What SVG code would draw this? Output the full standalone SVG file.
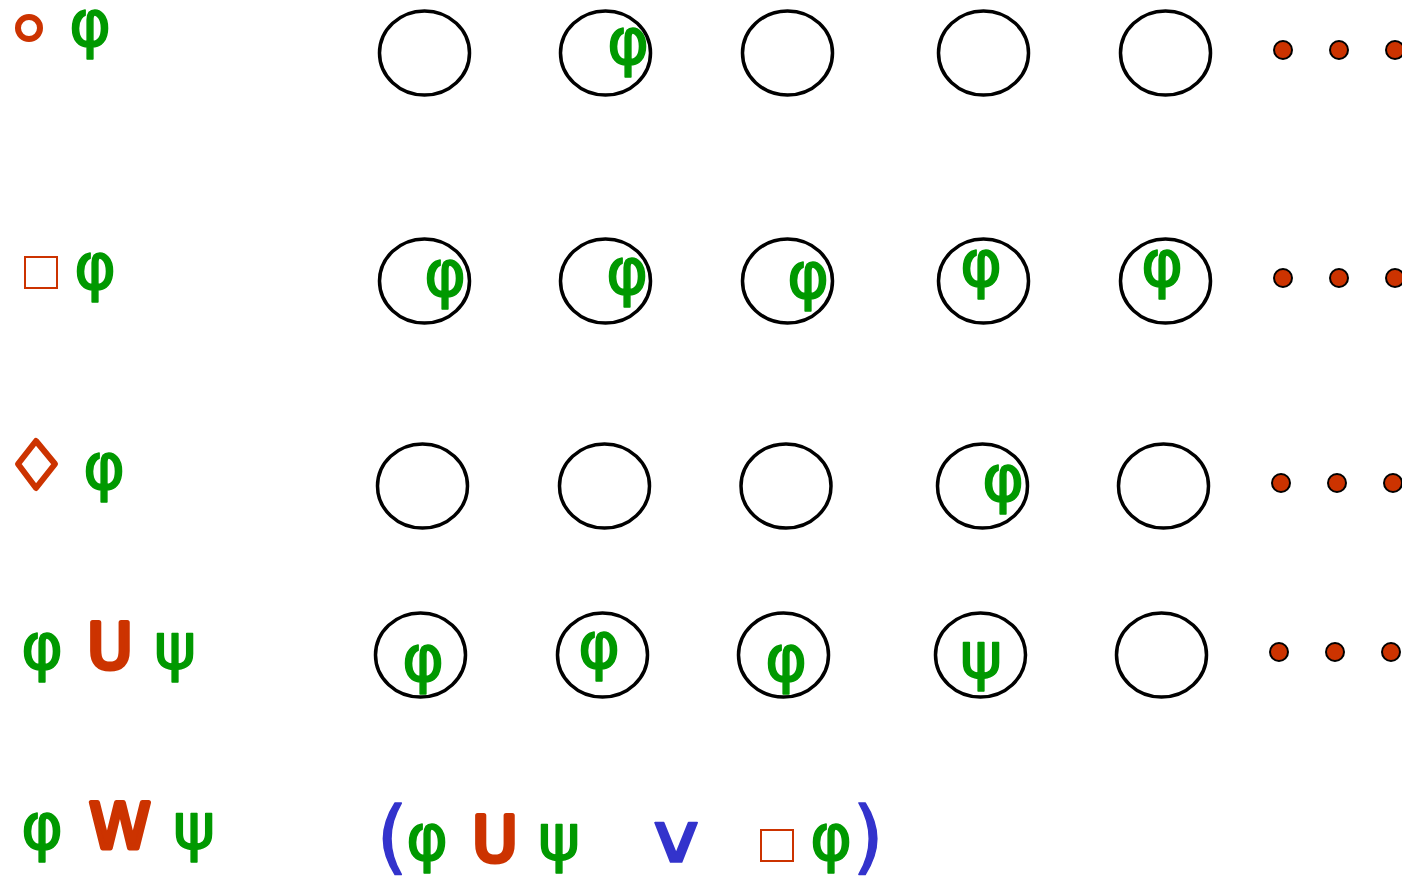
<svg xmlns="http://www.w3.org/2000/svg" width="1402" height="878" viewBox="0 0 1402 878">
  <style>
    .state { fill: #ffffff; stroke: #000000; stroke-width: 3.5; }
    .dot { fill: #cc3300; stroke: #000000; stroke-width: 2; }
    .g { fill: #009900; stroke: #009900; stroke-width: 1.5; stroke-linejoin: round; font-family: "DejaVu Sans", sans-serif; font-size: 64px; text-anchor: middle; }
    .op { fill: #cc3300; stroke: #cc3300; stroke-width: 5; stroke-linejoin: round; stroke-linecap: round; font-family: "DejaVu Sans", sans-serif; font-size: 62px; text-anchor: middle; }
    .b { fill: #3333cc; stroke: #3333cc; stroke-width: 1.5; stroke-linejoin: round; font-family: "DejaVu Sans", sans-serif; text-anchor: middle; }
    .ring { fill: none; stroke: #cc3300; stroke-width: 6; stroke-linejoin: round; }
    .box { fill: none; stroke: #cc3300; stroke-width: 2; }
  </style>

  <!-- operator labels, left column -->
  <g id="label-next">
    <circle class="ring" cx="29" cy="28" r="11"/>
    <text class="g" x="90" y="46">φ</text>
  </g>
  <g id="label-always">
    <rect class="box" x="25" y="257" width="32" height="31"/>
    <text class="g" x="95" y="289">φ</text>
  </g>
  <g id="label-eventually">
    <polygon class="ring" points="36,441 55,464 36,488 18,464"/>
    <text class="g" x="104" y="489">φ</text>
  </g>
  <g id="label-until">
    <text class="g" x="42" y="669">φ</text>
    <text class="op" x="110" y="668">U</text>
    <text class="g" x="175" y="669">ψ</text>
  </g>
  <g id="label-weak-until">
    <text class="g" x="42" y="849">φ</text>
    <text class="op" x="120" y="848">W</text>
    <text class="g" x="194" y="849">ψ</text>
  </g>

  <!-- row 1: next -->
  <g id="row1">
    <g id="r1s1"><ellipse class="state" cx="424.5" cy="53" rx="45" ry="42"/></g>
    <g id="r1s2"><ellipse class="state" cx="605.5" cy="53" rx="45" ry="42"/><text class="g" x="628" y="64">φ</text></g>
    <g id="r1s3"><ellipse class="state" cx="787.5" cy="53" rx="45" ry="42"/></g>
    <g id="r1s4"><ellipse class="state" cx="983.5" cy="53" rx="45" ry="42"/></g>
    <g id="r1s5"><ellipse class="state" cx="1165.5" cy="53" rx="45" ry="42"/></g>
    <g id="r1more"><circle class="dot" cx="1283" cy="50" r="9"/><circle class="dot" cx="1339" cy="50" r="9"/><circle class="dot" cx="1395" cy="50" r="9"/></g>
  </g>

  <!-- row 2: always -->
  <g id="row2">
    <g id="r2s1"><ellipse class="state" cx="424.5" cy="281" rx="45" ry="42"/><text class="g" x="445" y="296">φ</text></g>
    <g id="r2s2"><ellipse class="state" cx="605.5" cy="281" rx="45" ry="42"/><text class="g" x="627" y="294">φ</text></g>
    <g id="r2s3"><ellipse class="state" cx="787.5" cy="281" rx="45" ry="42"/><text class="g" x="808" y="298">φ</text></g>
    <g id="r2s4"><ellipse class="state" cx="983.5" cy="281" rx="45" ry="42"/><text class="g" x="981" y="286">φ</text></g>
    <g id="r2s5"><ellipse class="state" cx="1165.5" cy="281" rx="45" ry="42"/><text class="g" x="1162" y="286">φ</text></g>
    <g id="r2more"><circle class="dot" cx="1283" cy="278" r="9"/><circle class="dot" cx="1339" cy="278" r="9"/><circle class="dot" cx="1395" cy="278" r="9"/></g>
  </g>

  <!-- row 3: eventually -->
  <g id="row3">
    <g id="r3s1"><ellipse class="state" cx="422.5" cy="486" rx="45" ry="42"/></g>
    <g id="r3s2"><ellipse class="state" cx="604.5" cy="486" rx="45" ry="42"/></g>
    <g id="r3s3"><ellipse class="state" cx="786" cy="486" rx="45" ry="42"/></g>
    <g id="r3s4"><ellipse class="state" cx="982.5" cy="486" rx="45" ry="42"/><text class="g" x="1003" y="501">φ</text></g>
    <g id="r3s5"><ellipse class="state" cx="1163.5" cy="486" rx="45" ry="42"/></g>
    <g id="r3more"><circle class="dot" cx="1281" cy="483" r="9"/><circle class="dot" cx="1337" cy="483" r="9"/><circle class="dot" cx="1393" cy="483" r="9"/></g>
  </g>

  <!-- row 4: until -->
  <g id="row4">
    <g id="r4s1"><ellipse class="state" cx="420.5" cy="655" rx="45" ry="42"/><text class="g" x="423" y="681">φ</text></g>
    <g id="r4s2"><ellipse class="state" cx="602.5" cy="655" rx="45" ry="42"/><text class="g" x="599" y="668">φ</text></g>
    <g id="r4s3"><ellipse class="state" cx="783.5" cy="655" rx="45" ry="42"/><text class="g" x="786" y="681">φ</text></g>
    <g id="r4s4"><ellipse class="state" cx="980.5" cy="655" rx="45" ry="42"/><text class="g" x="981" y="678">ψ</text></g>
    <g id="r4s5"><ellipse class="state" cx="1161.5" cy="655" rx="45" ry="42"/></g>
    <g id="r4more"><circle class="dot" cx="1279" cy="652" r="9"/><circle class="dot" cx="1335" cy="652" r="9"/><circle class="dot" cx="1391" cy="652" r="9"/></g>
  </g>

  <!-- weak until expanded -->
  <g id="weak-until-def">
    <text class="b" x="392" y="864" font-size="80" stroke-width="2.5">(</text>
    <text class="g" x="427" y="860">φ</text>
    <text class="op" x="495" y="861">U</text>
    <text class="g" x="559" y="860">ψ</text>
    <text class="b" transform="translate(676,862) scale(1.3,1)" x="0" y="0" font-size="68" stroke-width="2">∨</text>
    <rect class="box" x="761" y="830" width="32" height="31"/>
    <text class="g" x="831" y="860">φ</text>
    <text class="b" x="868" y="864" font-size="80" stroke-width="2.5">)</text>
  </g>
</svg>
